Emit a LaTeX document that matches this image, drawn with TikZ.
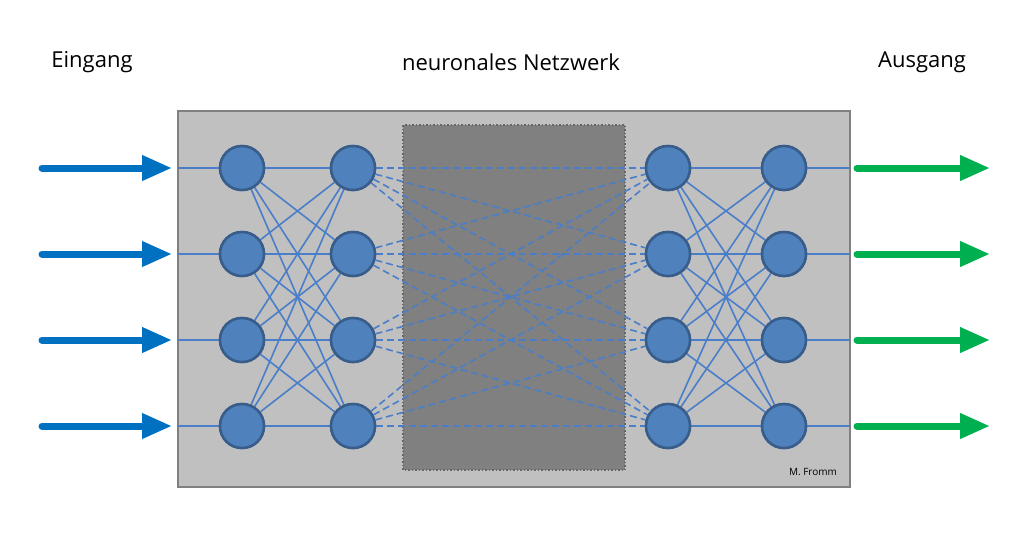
\documentclass[tikz,border=0pt]{standalone}
\usepackage{fontspec}
\setmainfont{Open Sans}
\definecolor{NodeBlue}{HTML}{4F81BD}
\definecolor{NodeEdge}{HTML}{385D8A}
\definecolor{LinkBlue}{HTML}{4A7EC8}
\definecolor{ArrowBlue}{HTML}{0070C0}
\definecolor{ArrowGreen}{HTML}{00B050}
\definecolor{BoxGray}{HTML}{C0C0C0}
\definecolor{HiddenGray}{HTML}{808080}
\tikzstyle{neuron}=[draw=NodeEdge,fill=NodeBlue,circle,line width=2.5pt,minimum size=44pt,inner sep=0pt]
\tikzstyle{link}=[draw=LinkBlue,line width=1.6pt]
\tikzstyle{hiddenLink}=[link,dash pattern=on 7pt off 4pt]
\tikzstyle{inArrow}=[-{Triangle[length=30pt,width=24pt]},line width=7pt,line cap=round,ArrowBlue]
\tikzstyle{outArrow}=[-{Triangle[length=30pt,width=24pt]},line width=7pt,line cap=round,ArrowGreen]
\usetikzlibrary{arrows.meta}

\begin{document}
\begin{tikzpicture}[x=1pt,y=-1pt]
\useasboundingbox (0,0) rectangle (1024,542);
    % Titles
    \node (eingang) at (92,62) {\fontsize{22}{26}\selectfont Eingang};
    \node (netz) at (511,62) {\fontsize{22}{26}\selectfont neuronales Netzwerk};
    \node (ausgang) at (922,62) {\fontsize{22}{26}\selectfont Ausgang};

    % Boxes
    \draw[fill=BoxGray,draw=HiddenGray,line width=2pt] (178,111) rectangle (850,487);
    \draw[fill=HiddenGray,draw=black!60,line width=1.5pt,dotted] (403,125) rectangle (625,470);
    \node[font=\fontsize{10}{12}\selectfont] (author) at (813,472) {M. Fromm};

    % Neurons
    \foreach \c/\x in {a/242,b/353,c/668,d/784}
        \foreach \r/\y in {1/168,2/254,3/340,4/426}
            \node[neuron] (\c\r) at (\x,\y) {};

    % Links
    \begin{scope}[on background layer/.try]
    \foreach \i in {1,2,3,4}
        \foreach \j in {1,2,3,4} {
            \draw[link] (a\i) -- (b\j);
            \draw[hiddenLink] (b\i) -- (c\j);
            \draw[link] (c\i) -- (d\j);
        }
    \end{scope}
    \foreach \r/\y in {1/168,2/254,3/340,4/426} {
        \coordinate (inL\r) at (178,\y);
        \coordinate (outR\r) at (850,\y);
        \coordinate (arrS\r) at (42,\y);
        \coordinate (arrE\r) at (172,\y);
        \coordinate (grS\r) at (857,\y);
        \coordinate (grE\r) at (990,\y);
        \draw[link] (inL\r) -- (a\r);
        \draw[link] (d\r) -- (outR\r);
        \draw[inArrow] (arrS\r) -- (arrE\r);
        \draw[outArrow] (grS\r) -- (grE\r);
    }
    % redraw neurons above links
    \foreach \c/\x in {a/242,b/353,c/668,d/784}
        \foreach \r/\y in {1/168,2/254,3/340,4/426}
            \node[neuron] at (\x,\y) {};
\end{tikzpicture}
\end{document}
